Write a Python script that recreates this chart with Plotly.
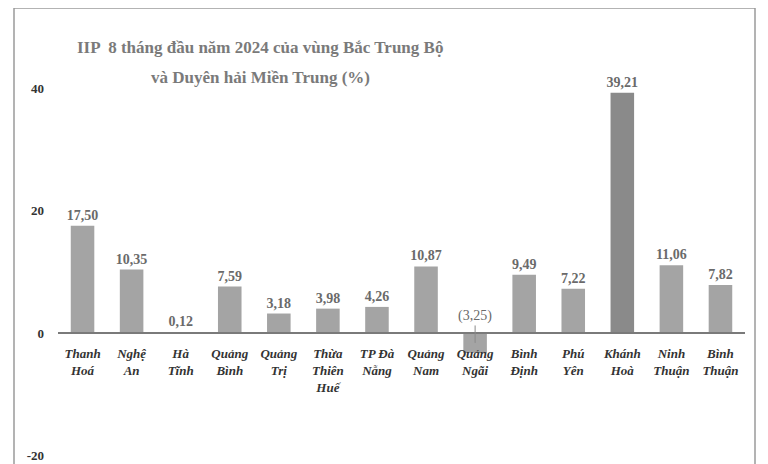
import plotly.graph_objects as go

categories = ["Thanh<br>Hoá", "Nghệ<br>An", "Hà<br>Tĩnh", "Quảng<br>Bình", "Quảng<br>Trị",
              "Thừa<br>Thiên<br>Huế", "TP Đà<br>Nẵng", "Quảng<br>Nam", "Quảng<br>Ngãi",
              "Bình<br>Định", "Phú<br>Yên", "Khánh<br>Hoà", "Ninh<br>Thuận", "Bình<br>Thuận"]
values = [17.50, 10.35, 0.12, 7.59, 3.18, 3.98, 4.26, 10.87, -3.25, 9.49, 7.22, 39.21, 11.06, 7.82]
highlight = "Khánh<br>Hoà"
y_ticks = [-20, 0, 20, 40]
title_lines = ["IIP  8 tháng đầu năm 2024 của vùng Bắc Trung Bộ", "và Duyên hải Miền Trung (%)"]

# page body has an 8px margin; target screen coordinates are converted below
OFF = 8
W, H = 760, 456
ML, MR, MT, MB = 58 - OFF, 768 - 745, 30 - OFF, 0
pw, ph = W - ML - MR, H - MT - MB
zero_px = 333 - OFF
ppu = 6.125
ymax = (zero_px - MT) / ppu
ymin = -(H - MB - zero_px) / ppu


def px_x(p):
    return (p - OFF - ML) / pw


def px_y(p):
    return (H - MB - (p - OFF)) / ph


def fmt(v):
    s = f"{abs(v):.2f}".replace(".", ",")
    return f"({s})" if v < 0 else s


colors = ["#8a8a8a" if c == highlight else "#a4a4a4" for c in categories]
texts = [fmt(v) if v >= 0 else "" for v in values]

font_family = "Liberation Serif, Times New Roman, serif"

fig = go.Figure()
fig.add_trace(go.Bar(
    x=categories, y=values, marker=dict(color=colors, line=dict(width=0)),
    width=0.48, text=texts, textposition="outside", cliponaxis=False,
    constraintext="none",
    textfont=dict(family=font_family, size=14, color="#6a6a6a", weight="bold"),
    hoverinfo="skip",
))

annotations = []
for c, v in zip(categories, values):
    if v < 0:
        annotations.append(dict(
            x=c, y=v / 2, xref="x", yref="y", text=fmt(v), showarrow=True,
            arrowhead=0, arrowwidth=1, arrowcolor="#8a8a8a", ax=0, ay=-27,
            font=dict(family=font_family, size=14, color="#6a6a6a"),
        ))

title_y_px = [47, 77]
for line, ypx in zip(title_lines, title_y_px):
    annotations.append(dict(
        x=px_x(260), y=px_y(ypx), xref="paper", yref="paper", text=line,
        showarrow=False, xanchor="center", yanchor="middle",
        font=dict(family=font_family, size=17, color="#7a7a7a", weight="bold"),
    ))

fig.update_layout(
    width=W, height=H, margin=dict(l=ML, r=MR, t=MT, b=MB, autoexpand=False),
    paper_bgcolor="white", plot_bgcolor="white", showlegend=False,
    bargap=0.5,
    xaxis=dict(
        anchor="free", position=(0 - ymin) / (ymax - ymin), automargin=False,
        showline=True, linecolor="#7a7a7a", linewidth=1.5,
        showgrid=False, zeroline=False, ticks="", ticklabelstandoff=9,
        tickfont=dict(family=font_family, size=13, color="#333333", weight="bold", style="italic"),
        tickangle=0, fixedrange=True,
    ),
    yaxis=dict(
        range=[ymin, ymax], tickvals=y_ticks, ticktext=[str(t) for t in y_ticks],
        showgrid=False, zeroline=False, showline=False, ticks="", automargin=False,
        ticklabelstandoff=13,
        tickfont=dict(family=font_family, size=13, color="#333333", weight="bold"),
        fixedrange=True,
    ),
    annotations=annotations,
    shapes=[dict(
        type="rect", xref="paper", yref="paper",
        x0=px_x(14), x1=px_x(755), y0=px_y(475), y1=px_y(8),
        line=dict(color="#9a9a9a", width=1.5), layer="below",
    )],
)

fig.write_html("out.html")
